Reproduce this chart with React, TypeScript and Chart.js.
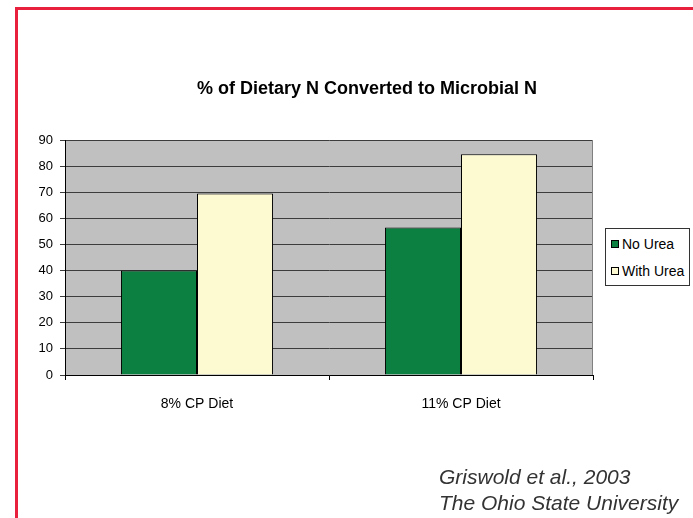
import React, { useEffect, useRef } from "react";
import { Chart, registerables } from "chart.js";

Chart.register(...registerables);

const categories = ["8% CP Diet", "11% CP Diet"];
const seriesNames = ["No Urea", "With Urea"];
const noUrea = [40, 56.5];
const withUrea = [69.5, 84.5];
const yTicks = [0, 10, 20, 30, 40, 50, 60, 70, 80, 90];
const titleText = "% of Dietary N Converted to Microbial N";
const citation = ["Griswold et al., 2003", "The Ohio State University"];
const colors = ["#0b8040", "#fdf9d0"];

const FONT = "'Liberation Sans', Arial, Helvetica, sans-serif";

const plotBg = {
  id: "plotBg",
  beforeDraw(chart: any) {
    const { ctx, chartArea } = chart;
    ctx.save();
    ctx.fillStyle = "#c0c0c0";
    ctx.fillRect(chartArea.left, chartArea.top, chartArea.right - chartArea.left, chartArea.bottom - chartArea.top);
    ctx.restore();
  },
  afterDraw(chart: any) {
    const { ctx, chartArea } = chart;
    ctx.save();
    ctx.strokeStyle = "#808080";
    ctx.lineWidth = 1;
    ctx.beginPath();
    ctx.moveTo(Math.round(chartArea.right) - 0.5, chartArea.top);
    ctx.lineTo(Math.round(chartArea.right) - 0.5, chartArea.bottom);
    ctx.stroke();
    ctx.restore();
  },
};

export default function App() {
  const ref = useRef<HTMLCanvasElement | null>(null);

  useEffect(() => {
    if (!ref.current) return;
    const chart = new Chart(ref.current, {
      type: "bar",
      data: {
        labels: categories,
        datasets: [
          {
            label: seriesNames[0],
            data: noUrea,
            backgroundColor: colors[0],
            borderColor: "#000",
            borderWidth: 1,
            categoryPercentage: 0.576,
            barPercentage: 1,
          },
          {
            label: seriesNames[1],
            data: withUrea,
            backgroundColor: colors[1],
            borderColor: "#000",
            borderWidth: 1,
            categoryPercentage: 0.576,
            barPercentage: 1,
          },
        ],
      },
      options: {
        responsive: false,
        animation: false,
        layout: { padding: { left: 0, right: 100, top: 140, bottom: 0 } },
        plugins: {
          legend: { display: false },
          tooltip: { enabled: false },
          title: { display: false },
        },
        scales: {
          x: {
            type: "category",
            offset: true,
            grid: {
              offset: true,
              drawOnChartArea: false,
              drawTicks: true,
              tickLength: 5,
              color: "#000",
            },
            border: { display: true, color: "#000", width: 1 },
            ticks: { color: "#000", font: { family: FONT, size: 14 }, padding: 16 },
            afterFit(scale: any) {
              scale.height = 143;
            },
          },
          y: {
            min: 0,
            max: 90,
            afterBuildTicks(scale: any) {
              scale.ticks = yTicks.map((v) => ({ value: v }));
            },
            grid: {
              color: "#3c3c3c",
              lineWidth: 1,
              drawTicks: true,
              tickLength: 5,
            },
            border: { display: true, color: "#000", width: 1 },
            ticks: { color: "#000", font: { family: FONT, size: 13 }, padding: 7 },
            afterFit(scale: any) {
              scale.width = 65;
            },
          },
        },
      },
      plugins: [plotBg],
    });
    return () => chart.destroy();
  }, []);

  return (
    <div
      style={{
        position: "absolute",
        left: 0,
        top: 0,
        width: 693,
        height: 518,
        background: "#fff",
        overflow: "hidden",
        fontFamily: FONT,
      }}
    >
      <canvas ref={ref} width={693} height={518} style={{ display: "block", position: "absolute", left: 0, top: 0 }} />
      <div style={{ position: "absolute", left: 15, top: 7, width: 678, height: 3, background: "#e8203e" }} />
      <div style={{ position: "absolute", left: 15, top: 7, width: 3, height: 511, background: "#e8203e" }} />
      <div
        style={{
          position: "absolute",
          left: 167,
          top: 77,
          width: 400,
          textAlign: "center",
          fontSize: 18,
          lineHeight: "22px",
          fontWeight: "bold",
          color: "#000",
          whiteSpace: "nowrap",
        }}
      >
        {titleText}
      </div>
      <div
        style={{
          position: "absolute",
          left: 605,
          top: 228,
          width: 85,
          height: 58,
          border: "1px solid #333",
          background: "#fff",
          boxSizing: "border-box",
        }}
      >
        {seriesNames.map((n, i) => (
          <div
            key={n}
            style={{
              position: "absolute",
              left: 5,
              top: 7 + i * 27,
              height: 16,
              display: "flex",
              alignItems: "center",
              whiteSpace: "nowrap",
              fontSize: 14,
              color: "#000",
              lineHeight: "16px",
            }}
          >
            <span
              style={{
                display: "inline-block",
                width: 8,
                height: 8,
                border: "1px solid #000",
                background: colors[i],
                marginRight: 3,
                boxSizing: "border-box",
              }}
            />
            {n}
          </div>
        ))}
      </div>
      {citation.map((t, i) => (
        <div
          key={t}
          style={{
            position: "absolute",
            left: 439,
            top: 464 + i * 26,
            fontSize: 21,
            lineHeight: "26px",
            fontStyle: "italic",
            color: "#333",
            whiteSpace: "nowrap",
          }}
        >
          {t}
        </div>
      ))}
    </div>
  );
}
